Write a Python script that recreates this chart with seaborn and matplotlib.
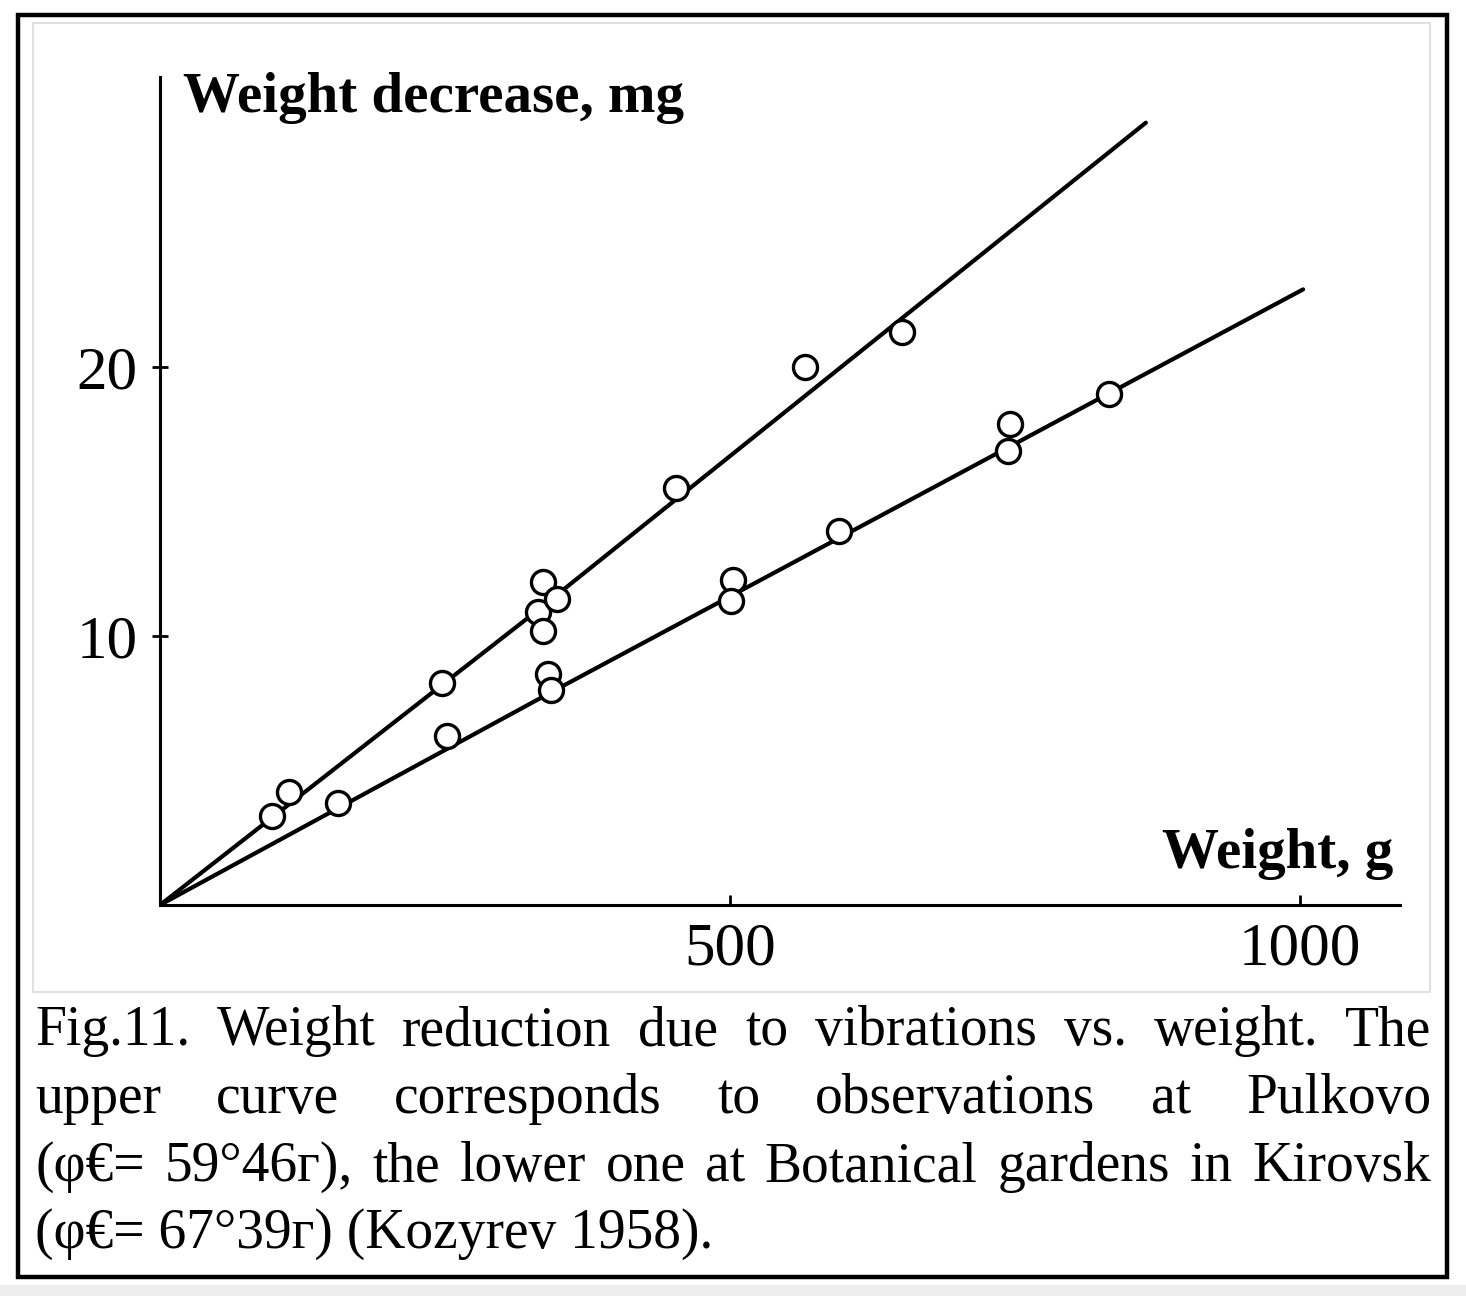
import matplotlib
matplotlib.use("Agg")
import matplotlib.pyplot as plt
import seaborn as sns
import pandas as pd
from matplotlib.patches import Rectangle

# ---------------- data ----------------
upper_x = [98, 113, 247, 336, 332, 336, 348, 453, 566, 651]
upper_y = [3.3, 4.2, 8.25, 12.0, 10.9, 10.2, 11.4, 15.5, 20.0, 21.3]
lower_x = [156, 252, 340, 343, 503, 501, 596, 746, 744, 833]
lower_y = [3.8, 6.3, 8.6, 8.0, 12.1, 11.3, 13.9, 17.9, 16.9, 19.0]
upper_line_x = [0, 331, 865]
upper_line_y = [0, 10.95, 29.1]
lower_line_x = [0, 347, 1003]
lower_line_y = [0, 8.0, 22.9]
x_ticks = [500, 1000]
y_ticks = [10, 20]
y_label = "Weight decrease, mg"
x_label = "Weight, g"
caption_lines = [
    "Fig.11. Weight reduction due to vibrations vs. weight. The",
    "upper curve corresponds to observations at Pulkovo",
    "(\u03c6\u20ac= 59\u00b046\u0433), the lower one at Botanical gardens in Kirovsk",
    "(\u03c6\u20ac= 67\u00b039\u0433) (Kozyrev 1958).",
]

points = pd.DataFrame({
    "x": upper_x + lower_x,
    "y": upper_y + lower_y,
    "series": ["Pulkovo"] * len(upper_x) + ["Kirovsk"] * len(lower_x),
})
lines = pd.DataFrame({
    "x": upper_line_x + lower_line_x,
    "y": upper_line_y + lower_line_y,
    "series": ["Pulkovo"] * len(upper_line_x) + ["Kirovsk"] * len(lower_line_x),
})

# ---------------- style ----------------
sns.set_theme(style="white")
plt.rcParams["font.family"] = ["Liberation Serif", "DejaVu Serif"]

W, H = 1466, 1296
fig = plt.figure(figsize=(W / 100, H / 100), dpi=100)
fig.patch.set_facecolor("white")

def fx(px):
    return px / W

def fy(py):
    return 1 - py / H

# page background strip at bottom
fig.patches.append(Rectangle((0, 0), 1, fy(1285), transform=fig.transFigure,
                             facecolor="#eeeeee", edgecolor="none", zorder=0))
# outer black frame
fig.patches.append(Rectangle((fx(18), fy(1277)), fx(1447 - 18), (1277 - 15) / H,
                             transform=fig.transFigure, facecolor="white",
                             edgecolor="black", linewidth=3.2, zorder=1))
# inner light-gray frame
fig.patches.append(Rectangle((fx(33), fy(992)), fx(1430 - 33), (992 - 23) / H,
                             transform=fig.transFigure, facecolor="white",
                             edgecolor="#dcdcdc", linewidth=1.2, zorder=2))

ax = fig.add_axes([fx(160), fy(905), fx(1400 - 160), (905 - 77) / H])
ax.set_facecolor("none")
ax.set_zorder(5)

sns.lineplot(data=lines, x="x", y="y", units="series", estimator=None, sort=False,
             color="black", linewidth=3.0, ax=ax, legend=False, zorder=3)
sns.scatterplot(data=points, x="x", y="y", s=300, facecolor="white",
                edgecolor="black", linewidth=2.4, ax=ax, legend=False, zorder=4)

ax.set_xlim(0, 1088)
ax.set_ylim(0, 30.8)
ax.set_xticks(x_ticks)
ax.set_yticks(y_ticks)
ax.set_xticklabels([str(v) for v in x_ticks])
ax.set_yticklabels([str(v) for v in y_ticks])
ax.set_xlabel("")
ax.set_ylabel("")
for s in ["top", "right"]:
    ax.spines[s].set_visible(False)
for s in ["left", "bottom"]:
    ax.spines[s].set_color("black")
    ax.spines[s].set_linewidth(2.2)
ax.tick_params(axis="y", direction="inout", length=12, width=2.0, pad=10,
               labelsize=44, colors="black", left=True)
ax.tick_params(axis="x", direction="in", length=7, width=2.0, pad=12,
               labelsize=44, colors="black", bottom=True)

ax.text((183 - 160) / (1400 - 160), 1 - (112 - 77) / (905 - 77),
        y_label, transform=ax.transAxes, fontsize=41, fontweight="bold",
        ha="left", va="baseline", color="black")
ax.text((1393 - 160) / (1400 - 160), (905 - 868) / (905 - 77), x_label,
        transform=ax.transAxes, fontsize=41, fontweight="bold",
        ha="right", va="baseline", color="black")

# ---------------- justified caption ----------------
renderer = fig.canvas.get_renderer()
left_px, right_px = 35, 1431
baselines = [1045, 1113, 1181, 1248]
cap_size = 40
for i, line in enumerate(caption_lines):
    words = line.split(" ")
    y = fy(baselines[i])
    if i == len(caption_lines) - 1:
        fig.text(fx(left_px), y, line, fontsize=cap_size, ha="left",
                 va="baseline", color="black", zorder=3)
        continue
    texts = [fig.text(0, y, w, fontsize=cap_size, ha="left", va="baseline",
                      color="black", zorder=3) for w in words]
    widths = [t.get_window_extent(renderer).width for t in texts]
    gap = (right_px - left_px - sum(widths)) / (len(words) - 1)
    x = left_px
    for t, wd in zip(texts, widths):
        t.set_x(fx(x))
        x += wd + gap

fig.savefig("out.png", dpi=100, facecolor="white")
